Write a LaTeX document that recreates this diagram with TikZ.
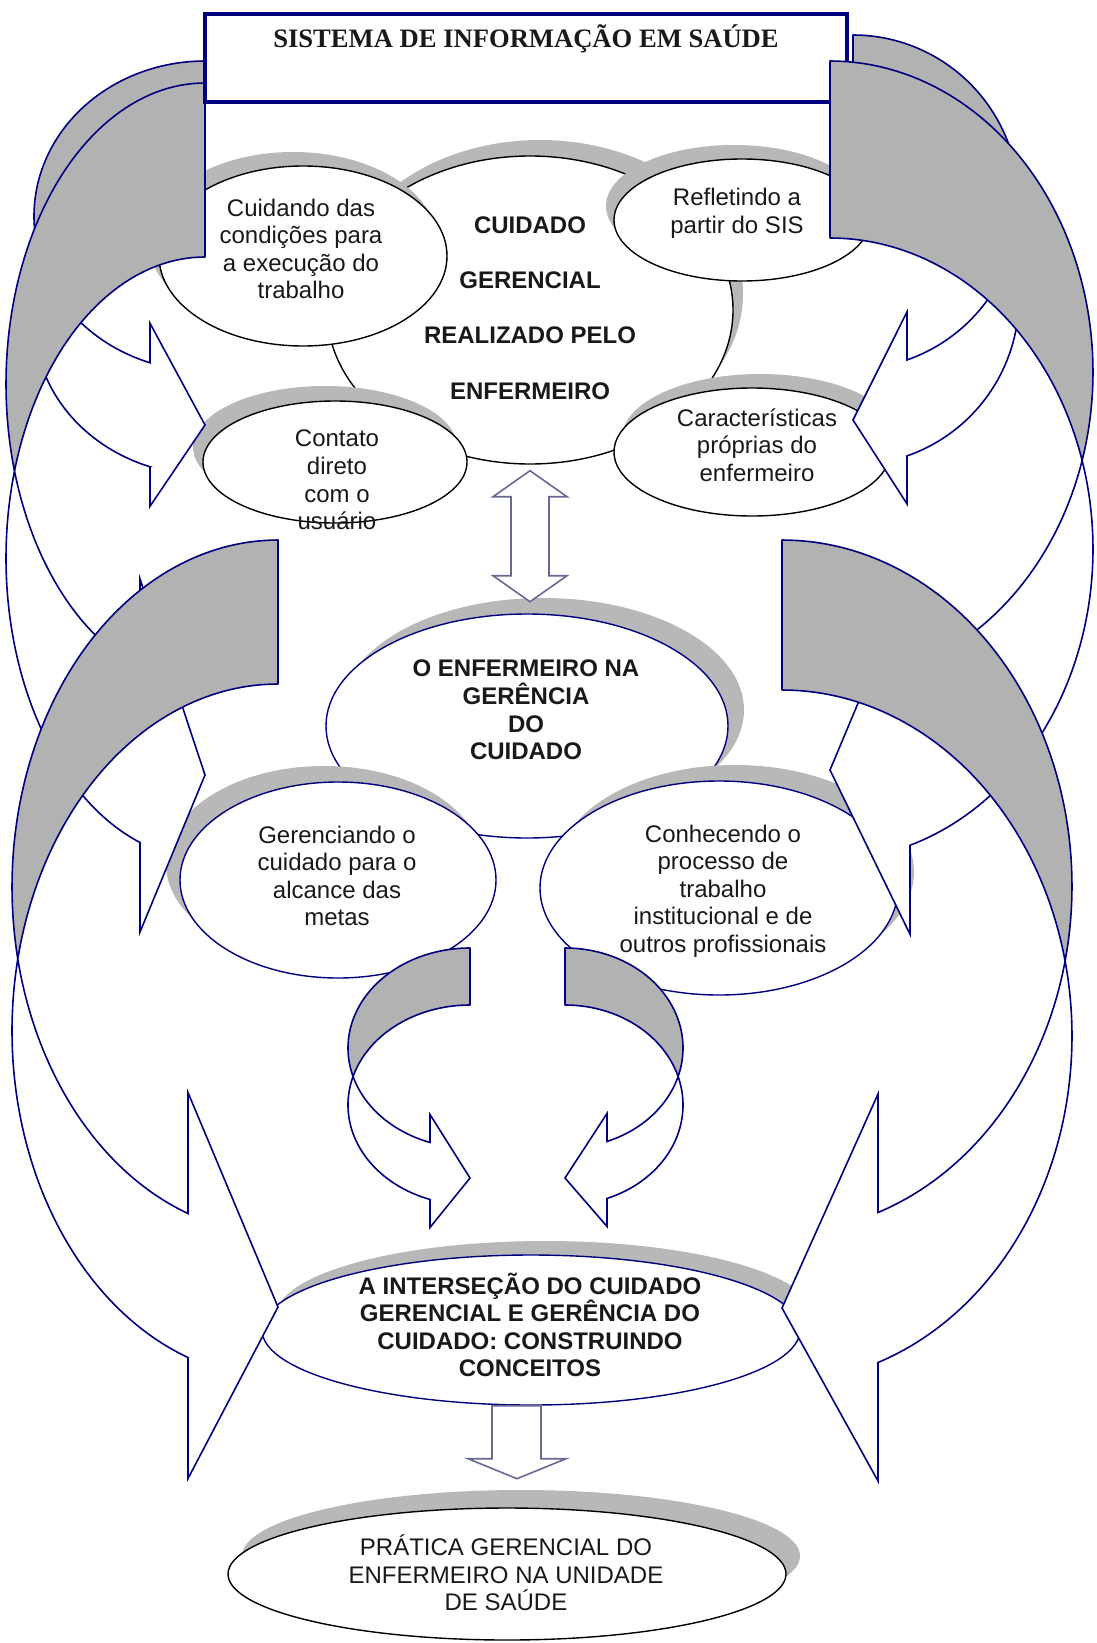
\documentclass[tikz,border=0pt]{standalone}
\usepackage{fontspec}
\setmainfont{Liberation Serif}
\setsansfont{Liberation Sans}
\usetikzlibrary{shapes.geometric,shadows,calc}

\definecolor{navy}{RGB}{0,0,128}
\definecolor{bandgray}{RGB}{178,178,178}
\definecolor{shadegray}{RGB}{184,184,184}
\definecolor{slate}{RGB}{104,104,150}
\definecolor{ink}{RGB}{25,25,25}

\tikzset{
  bubble/.style={ellipse, draw=black, fill=white, line width=0.7pt, inner sep=0pt},
  navybubble/.style={bubble, draw=navy},
  shadowed/.style 2 args={general shadow={fill=shadegray, shadow xshift=#1, shadow yshift=#2}},
  lbl/.style={align=center, text=ink, font=\sffamily\fontsize{12}{13.8}\selectfont},
  boldlbl/.style={lbl, font=\sffamily\bfseries\fontsize{12}{13.8}\selectfont},
  band/.style={draw=navy, fill=bandgray, line width=0.8pt, line join=round},
  front/.style={draw=navy, fill=white, line width=0.8pt},
  blockarrow/.style={draw=slate, fill=white, line width=0.8pt},
  titlebox/.style={draw=navy, fill=white, line width=2pt, inner sep=0pt},
}

% curled arrow: #1 side (1 curls left, -1 curls right), #2 tail x, #3 tail top,
% #4 band, #5 x radius, #6 y radius, #7 head length, #8 head width, #9 tip y
\newcommand{\curlarrow}[9]{%
  \pgfmathsetmacro{\ctrA}{#3+#6}
  \pgfmathsetmacro{\ctrB}{\ctrA+#4}
  \pgfmathsetmacro{\angX}{acos(-#4/(2*#6))}
  \pgfmathsetmacro{\angY}{180-\angX}
  \pgfmathsetmacro{\angH}{180-asin(#7/#5)}
  \pgfmathsetmacro{\yA}{\ctrA+#6*sqrt(1-(#7/#5)^2)}
  \pgfmathsetmacro{\yB}{\yA+#4}
  \pgfmathsetmacro{\hdh}{(#8-#4)/2}
  \pgfmathsetmacro{\xH}{#2-(#1)*#7}
  \filldraw[band] plot[domain=0:\angX, samples=60] ({#2-(#1)*#5*sin(\x)}, {\ctrA-#6*cos(\x)})
    -- plot[domain=\angY:0, samples=60] ({#2-(#1)*#5*sin(\x)}, {\ctrB-#6*cos(\x)}) -- cycle;
  \filldraw[front] plot[domain=\angX:\angH, samples=60] ({#2-(#1)*#5*sin(\x)}, {\ctrA-#6*cos(\x)})
    -- (\xH,{\yA-\hdh}) -- (#2,#9) -- (\xH,{\yB+\hdh}) -- (\xH,\yB)
    -- plot[domain=\angH:\angY, samples=60] ({#2-(#1)*#5*sin(\x)}, {\ctrB-#6*cos(\x)}) -- cycle;
}

\begin{document}
\begin{tikzpicture}[x=0.5pt, y=-0.5pt]
\fill[white] (0,0) rectangle (1097,1643);
\useasboundingbox (0,0) rectangle (1097,1643);

% cuidado gerencial
\node[bubble, shadowed={5pt}{8pt}, minimum width=203pt, minimum height=154pt] (cgr) at (530,310) {};
\node[bubble, shadowed={-5pt}{7pt}, minimum width=144pt, minimum height=90pt] (cuid) at (303,256) {};
\node[bubble, shadowed={-4pt}{7pt}, minimum width=128pt, minimum height=61pt] (refl) at (742,220) {};
\node[bubble, shadowed={-5pt}{7.5pt}, minimum width=132pt, minimum height=61pt] (cont) at (335,462) {};
\node[bubble, shadowed={4pt}{7pt}, minimum width=138pt, minimum height=64pt] (carac) at (752,452) {};

% gerencia do cuidado
\node[navybubble, shadowed={8pt}{8pt}, minimum width=201pt, minimum height=112pt] (oeg) at (527,726) {};
\node[navybubble, shadowed={-7pt}{8pt}, minimum width=158pt, minimum height=98pt] (ger) at (338,880) {};
\node[navybubble, shadowed={8pt}{8pt}, minimum width=179pt, minimum height=107pt] (con) at (719,888) {};

\node[navybubble, shadowed={7pt}{7pt}, minimum width=269pt, minimum height=75pt] (inter) at (531,1330) {};
\node[bubble, shadowed={7pt}{9pt}, minimum width=279pt, minimum height=66pt] (prat) at (507,1574) {};

\draw[blockarrow] ($(cgr.south)+(0,6)$) -- ++(37,26) -- ++(-18,0) -- ++(0,79) -- ++(18,0)
  -- ++(-37,26) -- ++(-37,-26) -- ++(18,0) -- ++(0,-79) -- ++(-18,0) -- cycle;
\draw[blockarrow] ($(inter.south)+(-39,0)$) -- ++(49,0) -- ++(0,53) -- ++(25,0)
  -- ++(-49,20) -- ++(-49,-20) -- ++(24,0) -- cycle;

\curlarrow{1}{205}{61}{104}{171}{155}{55}{183}{425}
\curlarrow{1}{205}{83}{174}{199}{301}{65}{353}{775}
\curlarrow{-1}{853}{35}{96}{166}{167}{54}{192}{420}
\node[titlebox, minimum width=321pt, minimum height=44pt] (sis) at (526,58) {};
\curlarrow{-1}{830}{61}{177}{263}{311}{80}{355}{770}
\curlarrow{1}{278}{540}{144}{266}{347}{90}{386}{1307}
\curlarrow{-1}{782}{540}{150}{290}{346}{96}{387}{1308}
\curlarrow{1}{470}{948}{57}{122}{100}{40}{113}{1178}
\curlarrow{-1}{565}{948}{57}{118}{100}{42}{113}{1178}

\node[text=ink, font=\bfseries\fontsize{13.3}{16}\selectfont] (sis-t) at (526,39) {SISTEMA DE INFORMAÇÃO EM SAÚDE};
\node[boldlbl, font=\sffamily\bfseries\fontsize{12}{27.7}\selectfont] (cgr-t) at (530,308) {CUIDADO\\GERENCIAL\\REALIZADO PELO\\ENFERMEIRO};
\node[lbl] (cuid-t) at (301,249) {Cuidando das\\condições para\\a execução do\\trabalho};
\node[lbl] (refl-t) at (737,213) {Refletindo a\\partir do SIS};
\node[lbl] (cont-t) at (337,480) {Contato\\direto\\com o\\usuário};
\node[lbl] (carac-t) at (757,445) {Características\\próprias do\\enfermeiro};
\node[boldlbl] (oeg-t) at (526,710) {O ENFERMEIRO NA\\GERÊNCIA\\DO\\CUIDADO};
\node[lbl] (ger-t) at (337,876) {Gerenciando o\\cuidado para o\\alcance das\\metas};
\node[lbl] (con-t) at (723,891) {Conhecendo o\\processo de\\trabalho\\institucional e de\\outros profissionais};
\node[boldlbl] (inter-t) at (530,1325) {A INTERSEÇÃO DO CUIDADO\\GERENCIAL E GERÊNCIA DO\\CUIDADO: CONSTRUINDO\\CONCEITOS};
\node[lbl] (prat-t) at (506,1573) {PRÁTICA GERENCIAL DO\\ENFERMEIRO NA UNIDADE\\DE SAÚDE};
\end{tikzpicture}
\end{document}
